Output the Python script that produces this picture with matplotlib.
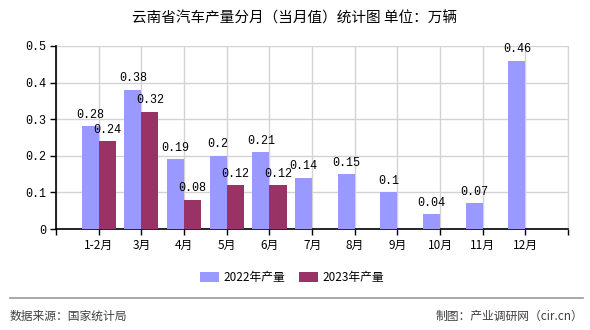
import numpy as np
import matplotlib
matplotlib.use("Agg")
import matplotlib.pyplot as plt

plt.rcParams['font.family'] = ['Noto Sans CJK SC', 'DejaVu Sans']

# Data
months = ["1-2月", "3月", "4月", "5月", "6月", "7月", "8月", "9月", "10月", "11月", "12月"]
output_2022 = [0.28, 0.38, 0.19, 0.2, 0.21, 0.14, 0.15, 0.1, 0.04, 0.07, 0.46]
output_2023 = [0.24, 0.32, 0.08, 0.12, 0.12]
labels_2022 = ["0.28", "0.38", "0.19", "0.2", "0.21", "0.14", "0.15", "0.1", "0.04", "0.07", "0.46"]
labels_2023 = ["0.24", "0.32", "0.08", "0.12", "0.12"]

c2022 = "#9999ff"
c2023 = "#993366"
num_font = ["Liberation Mono", "DejaVu Sans Mono"]

fig = plt.figure(figsize=(5.9, 3.3), dpi=100)
ax = fig.add_axes([0.095, 0.306, 0.868, 0.555])

x = np.arange(len(months))
w = 0.4
bars1 = ax.bar(x - w / 2, output_2022, width=w, color=c2022, label="2022年产量", zorder=3)
x2 = np.arange(len(output_2023))
bars2 = ax.bar(x2 + w / 2, output_2023, width=w, color=c2023, label="2023年产量", zorder=3)

# value labels above the bars
for bars, texts in [(bars1, labels_2022), (bars2, labels_2023)]:
    for b, txt in zip(bars, texts):
        ax.annotate(txt, (b.get_x() + b.get_width() / 2, b.get_height()),
                    xytext=(0, 4), textcoords="offset points", ha="center", va="bottom",
                    fontsize=8.5, family=num_font, zorder=4)

ax.set_xlim(-1, len(months))
ax.set_ylim(0, 0.5)
ax.set_xticks(np.arange(-1, len(months) + 1))
ax.set_xticklabels([""] + months + [""], fontsize=8.5)
ax.set_yticks([0, 0.1, 0.2, 0.3, 0.4, 0.5])
ax.set_yticklabels(["0", "0.1", "0.2", "0.3", "0.4", "0.5"], fontsize=8.5, family=num_font)
ax.tick_params(axis="both", length=4, width=1, color="black", pad=3)

ax.grid(True, color="#d3d3d3", linewidth=1, zorder=0)
ax.spines["top"].set_visible(False)
ax.spines["right"].set_color("#d3d3d3")
ax.spines["left"].set_linewidth(1.2)
ax.spines["bottom"].set_linewidth(1.2)

fig.legend(handles=[bars1, bars2], labels=["2022年产量", "2023年产量"],
           loc="center", bbox_to_anchor=(0.495, 0.16), ncol=2, frameon=False,
           fontsize=8.5, handlelength=1.6, handleheight=0.9, columnspacing=1.2,
           handletextpad=0.4)

fig.text(0.5, 0.945, "云南省汽车产量分月（当月值）统计图 单位：万辆",
         ha="center", va="center", fontsize=10.5)

# footer
fig.add_artist(plt.Line2D([0.017, 0.988], [0.097, 0.097], color="#999999", linewidth=1.2))
fig.text(0.017, 0.042, "数据来源：国家统计局", ha="left", va="center", fontsize=8.5, color="#404040")
fig.text(0.988, 0.042, "制图：产业调研网（cir.cn）", ha="right", va="center", fontsize=8.5, color="#404040")

fig.savefig("out.png", dpi=100)
